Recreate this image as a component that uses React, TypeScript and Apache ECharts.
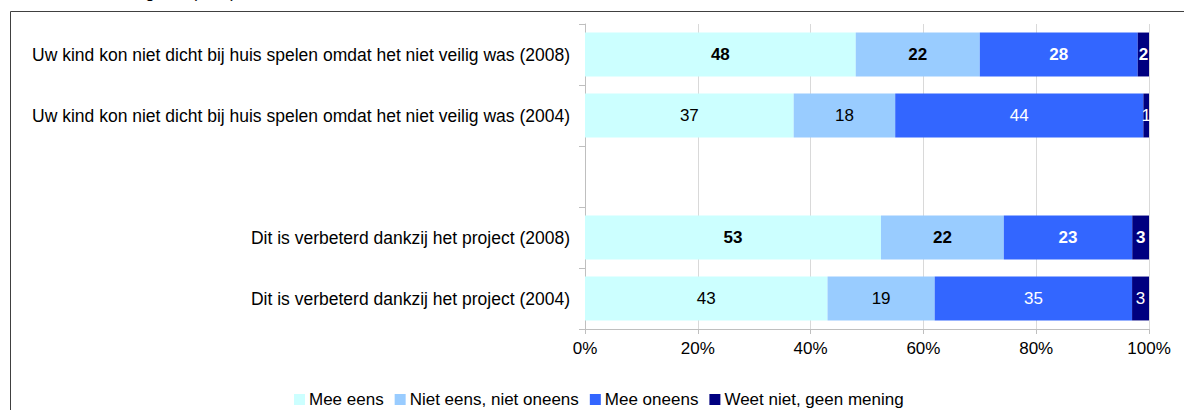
import React, { useEffect, useRef } from "react";
import * as echarts from "echarts";

const categories = [
  "Uw kind kon niet dicht bij huis spelen omdat het niet veilig was (2008)",
  "Uw kind kon niet dicht bij huis spelen omdat het niet veilig was (2004)",
  "",
  "Dit is verbeterd dankzij het project (2008)",
  "Dit is verbeterd dankzij het project (2004)",
];
const seriesNames = ["Mee eens", "Niet eens, niet oneens", "Mee oneens", "Weet niet, geen mening"];
const meeEens = [48, 37, null, 53, 43];
const nietEensNietOneens = [22, 18, null, 22, 19];
const meeOneens = [28, 44, null, 23, 35];
const weetNiet = [2, 1, null, 3, 3];
const boldRows = [true, false, false, true, false];
const xTicks = [0, 20, 40, 60, 80, 100];
const titleText = "Veiligheid (in %)";

const colors = ["#CCFFFF", "#99CCFF", "#3366FF", "#000080"];
const labelColors = ["#000000", "#000000", "#ffffff", "#ffffff"];
const FONT = "Arial, 'Liberation Sans', sans-serif";

export default function App() {
  const ref = useRef<HTMLDivElement>(null);
  useEffect(() => {
    document.body.style.margin = "0";
    if (!ref.current) return;
    const chart = echarts.init(ref.current, undefined, { renderer: "svg" });
    const all = [meeEens, nietEensNietOneens, meeOneens, weetNiet];
    const rowSums = categories.map((_, r) =>
      all.reduce((s, arr) => s + (arr[r] == null ? 0 : (arr[r] as number)), 0)
    );
    const series = all.map((arr, si) => ({
      name: seriesNames[si],
      type: "bar",
      stack: "total",
      barCategoryGap: "28%",
      itemStyle: { color: colors[si] },
      label: {
        show: true,
        position: "inside",
        color: labelColors[si],
        fontSize: 17,
        fontFamily: FONT,
        formatter: (p: any) => (p.data && p.data.raw != null ? String(p.data.raw) : ""),
      },
      data: arr.map((v, r) =>
        v == null
          ? { value: "-", raw: null }
          : {
              value: ((v as number) / rowSums[r]) * 100,
              raw: v,
              label: { fontWeight: boldRows[r] ? "bold" : "normal" },
            }
      ),
    }));
    chart.setOption({
      animation: false,
      color: colors,
      grid: { left: 585, right: 35, top: 24, bottom: 81, containLabel: false },
      legend: {
        data: seriesNames,
        left: 289,
        top: 386,
        itemWidth: 11,
        itemHeight: 11,
        itemGap: 11,
        icon: "rect",
        textStyle: { fontSize: 17, fontFamily: FONT, color: "#000", padding: [0, 0, 0, -1] },
      },
      xAxis: {
        type: "value",
        min: 0,
        max: 100,
        interval: 20,
        axisLine: { show: true, lineStyle: { color: "#bfbfbf" } },
        axisTick: { show: true, length: 5, lineStyle: { color: "#bfbfbf" } },
        splitLine: { show: true, lineStyle: { color: "#d9d9d9" } },
        axisLabel: {
          margin: 11,
          fontSize: 17,
          fontFamily: FONT,
          color: "#000",
          formatter: (v: number) => (xTicks.includes(v) ? v + "%" : ""),
        },
      },
      yAxis: {
        type: "category",
        inverse: true,
        data: categories,
        axisLine: { show: true, lineStyle: { color: "#bfbfbf" } },
        axisTick: { show: true, length: 6, lineStyle: { color: "#bfbfbf" } },
        axisLabel: { margin: 15, fontSize: 17.5, fontFamily: FONT, color: "#000" },
      },
      graphic: [
        {
          type: "rect",
          shape: { x: 10.5, y: 11.5, width: 1300, height: 600 },
          style: { fill: "none", stroke: "#404040", lineWidth: 1 },
          silent: true,
        },
        {
          type: "text",
          x: 114,
          y: 1,
          style: {
            text: titleText,
            fontSize: 17,
            fontFamily: FONT,
            fill: "#000",
            textVerticalAlign: "bottom",
          },
          silent: true,
        },
      ],
      series,
    });
    return () => chart.dispose();
  }, []);
  return <div ref={ref} style={{ width: 1184, height: 410 }} />;
}
